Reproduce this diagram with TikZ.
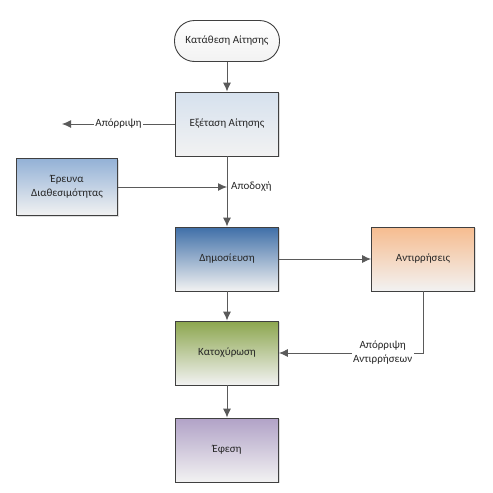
\documentclass[tikz,border=0pt]{standalone}
\usepackage{fontspec}
\setmainfont{Carlito}
\usetikzlibrary{arrows.meta}
\usetikzlibrary{shadows}

\definecolor{edgegray}{HTML}{404040}
\definecolor{linegray}{HTML}{5A5A5A}
\definecolor{boxlow}{HTML}{F2F2F2}
\definecolor{examtop}{HTML}{D6E1EE}
\definecolor{searchtop}{HTML}{93B1D6}
\definecolor{pubtop}{HTML}{3F6FA8}
\definecolor{objtop}{HTML}{F6BC8F}
\definecolor{granttop}{HTML}{8CA64E}
\definecolor{appealtop}{HTML}{B1A2C7}

\begin{document}
\begin{tikzpicture}[x=1pt, y=-1pt,
    every node/.style={font=\fontsize{11}{14}\selectfont, text=black!85},
    box/.style={draw=edgegray, line width=0.9pt, minimum width=103pt, minimum height=64pt,
        align=center, bottom color=boxlow,
        drop shadow={shadow xshift=1.2pt, shadow yshift=-1.2pt, opacity=0.25}},
    start/.style={draw=edgegray, line width=0.9pt, rounded corners=20pt, minimum width=105pt,
        minimum height=41pt, top color=white, bottom color=boxlow},
    flow/.style={draw=linegray, line width=0.9pt, -{Latex[length=9pt, width=8pt]}},
    tag/.style={fill=white, inner sep=1.5pt, align=center}]
    \useasboundingbox (0, 0) rectangle (493, 493);

    \node[start] (katathesi) at (227, 41) {Κατάθεση Αίτησης};
    \node[box, top color=examtop] (exetasi) at (227, 124) {Εξέταση Αίτησης};
    \node[box, top color=searchtop, minimum width=101pt, minimum height=57pt] (erevna) at (67, 187) {Έρευνα\\Διαθεσιμότητας};
    \node[box, top color=pubtop] (dimosieusi) at (227, 259) {Δημοσίευση};
    \node[box, top color=objtop] (antirriseis) at (423, 259) {Αντιρρήσεις};
    \node[box, top color=granttop] (katoxyrosi) at (227, 353) {Κατοχύρωση};
    \node[box, top color=appealtop] (efesi) at (227, 450) {Έφεση};

    \coordinate (aporripsi) at (62, 124);
    \coordinate (apodoxi) at (exetasi.south |- erevna.east);

    \draw[flow] (katathesi) -- (exetasi);
    \draw[flow] (exetasi) -- node[tag] {Απόρριψη} (aporripsi);
    \draw[flow] (exetasi) -- (dimosieusi);
    \draw[flow] (erevna) -- (apodoxi);
    \node[right, inner sep=4pt] at (apodoxi) {Αποδοχή};
    \draw[flow] (dimosieusi) -- (antirriseis);
    \draw[flow] (dimosieusi) -- (katoxyrosi);
    \draw[flow] (antirriseis) |- node[tag, pos=0.64] {Απόρριψη\\Αντιρρήσεων} (katoxyrosi);
    \draw[flow] (katoxyrosi) -- (efesi);
\end{tikzpicture}
\end{document}
